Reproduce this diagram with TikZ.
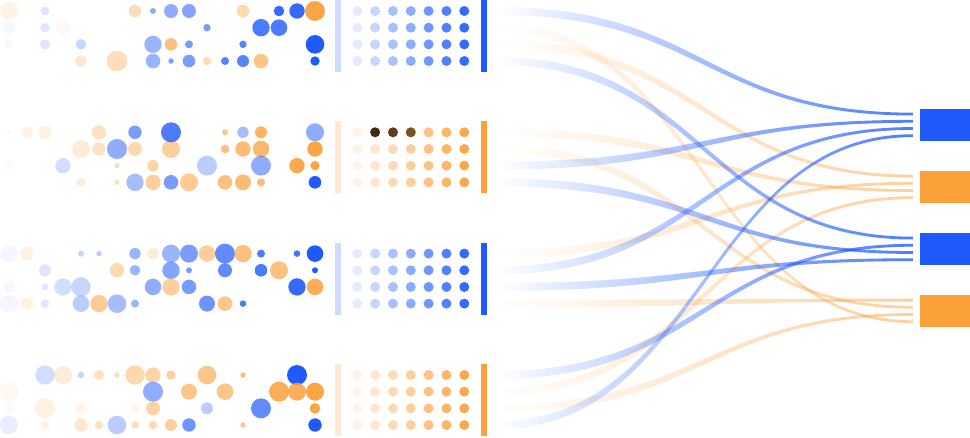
\documentclass[tikz,border=0pt]{standalone}
\usetikzlibrary{positioning, calc, fadings}

\definecolor{cb}{HTML}{1F5AFF}
\definecolor{co}{HTML}{FCA03A}
\definecolor{brownA}{HTML}{3E2A13}
\definecolor{brownB}{HTML}{5E3D1B}
\definecolor{brownC}{HTML}{7D521F}

\tikzfading[name=flowfade, left color=transparent!100, middle color=transparent!30, right color=transparent!0]

% tapered ribbon between two named coordinates
\newcommand{\drawflow}[3]{%
  \fill[#1] ($(#2)+(0,-4)$) .. controls ($(#2)+(206,-4)$) and ($(#3)+(-206,-1.4)$) .. ($(#3)+(0,-1.4)$)
    -- ($(#3)+(0,1.4)$) .. controls ($(#3)+(-206,1.4)$) and ($(#2)+(206,4)$) .. ($(#2)+(0,4)$) -- cycle;}

\begin{document}
\begin{tikzpicture}[
    x=1pt, y=-1pt,
    outbox/.style={rectangle, minimum width=50pt, minimum height=31.5pt, inner sep=0pt, draw=none},
    flow/.style={path fading=flowfade},
    blueflow/.style={flow, fill=cb, fill opacity=0.8},
    orangeflow/.style={flow, fill=co, fill opacity=0.5},
]
\useasboundingbox (0,0) rectangle (970,437);

% Bubble rows, group 1
\foreach \k/\r/\s/\col/\op in {0/0/9/co/0.12, 2/0/4.3/cb/0.15, 7/0/6.3/co/0.35, 8/0/3/cb/0.5, 9/0/7/cb/0.5,
    10/0/7/cb/0.55, 13/0/6.3/co/0.4, 15/0/5.3/cb/0.9, 16/0/7.7/cb/0.9, 17/0/10/co/0.95,
    0/1/6/cb/0.05, 2/1/4.7/cb/0.15, 3/1/6.7/co/0.08, 11/1/3.7/cb/0.6, 14/1/8.7/cb/0.8, 15/1/8.3/cb/0.8,
    0/2/4/cb/0.05, 2/2/5/cb/0.15, 4/2/5.3/cb/0.25, 8/2/8.7/cb/0.45, 9/2/6.3/co/0.65, 10/2/4/cb/0.6,
    13/2/3.7/cb/0.75, 17/2/9.3/cb/1,
    4/3/5.7/co/0.25, 6/3/10.3/co/0.35, 8/3/7.3/cb/0.45, 9/3/2.7/cb/0.6, 10/3/6.3/cb/0.6, 11/3/4.3/co/0.35,
    12/3/4/cb/0.75, 13/3/6/cb/0.75, 14/3/7.3/co/0.6, 17/3/4.7/cb/1}{
    \fill[\col, fill opacity=\op] (9+18*\k, 11+16.67*\r) circle[radius=\s pt];
}

% Bubble rows, group 2
\foreach \k/\r/\s/\col/\op in {0/0/3/co/0.05, 1/0/6/co/0.12, 2/0/6.7/co/0.15, 5/0/7.3/co/0.3, 7/0/6.7/cb/0.6,
    12/0/3/co/0.6, 13/0/5.7/cb/0.4, 14/0/6/co/0.8, 17/0/9/cb/0.5,
    4/1/9/co/0.2, 5/1/6.7/co/0.3, 6/1/10/cb/0.5, 7/1/7/co/0.4, 9/1/9/co/0.5, 12/1/4.3/co/0.65,
    13/1/7.7/co/0.7, 14/1/8.3/co/0.75, 17/1/7.7/co/0.95, 9/0/10/cb/0.8,
    0/2/4.7/co/0.05, 3/2/7.7/cb/0.2, 6/2/2.7/co/0.35, 8/2/5.7/co/0.45, 11/2/10/cb/0.3, 14/2/10/cb/0.5,
    16/2/7.7/co/0.9, 17/2/4.7/co/0.95,
    4/3/4.3/co/0.2, 6/3/2.7/co/0.3, 7/3/8.7/cb/0.4, 8/3/7.7/co/0.5, 9/3/7.3/cb/0.6, 10/3/9/co/0.55,
    12/3/7.3/co/0.65, 13/3/8/co/0.7, 14/3/4/co/0.7, 17/3/6.3/cb/1}{
    \fill[\col, fill opacity=\op] (9+18*\k, 132.3+16.67*\r) circle[radius=\s pt];
}

% Bubble rows, group 3
\foreach \k/\r/\s/\col/\op in {0/0/8.7/cb/0.05, 1/0/6.7/co/0.15, 4/0/3/cb/0.25, 5/0/2.7/cb/0.3, 7/0/5.7/cb/0.45,
    8/0/5.7/co/0.2, 9/0/9/cb/0.45, 10/0/9/cb/0.6, 11/0/8.3/co/0.5, 12/0/10/cb/0.7, 13/0/8.7/co/0.65,
    14/0/4/cb/0.8, 16/0/3.3/cb/0.85, 17/0/8.3/cb/1,
    2/1/6/cb/0.15, 6/1/7.3/co/0.4, 7/1/5.3/cb/0.45, 9/1/8.7/cb/0.55, 10/1/3/cb/0.6, 12/1/7/cb/0.7,
    14/1/6.3/cb/0.8, 15/1/9/co/0.65, 17/1/3/cb/1,
    0/2/5.7/cb/0.05, 2/2/3.3/cb/0.15, 3/2/8.7/cb/0.2, 4/2/9.7/cb/0.25, 8/2/8.3/cb/0.5, 9/2/8.7/co/0.5,
    10/2/7.3/cb/0.6, 16/2/8.7/cb/0.9, 17/2/8.3/co/0.85,
    0/3/9/cb/0.05, 1/3/6/co/0.15, 2/3/4.3/cb/0.15, 4/3/8.3/cb/0.3, 5/3/8.7/co/0.55, 6/3/9.3/cb/0.4,
    7/3/4/cb/0.45, 11/3/8/cb/0.65, 12/3/7.3/co/0.6, 13/3/3.3/cb/0.8}{
    \fill[\col, fill opacity=\op] (9+18*\k, 253.6+16.67*\r) circle[radius=\s pt];
}

% Bubble rows, group 4
\foreach \k/\r/\s/\col/\op in {2/0/9.7/cb/0.2, 3/0/9/co/0.2, 4/0/3.3/cb/0.25, 5/0/5.3/co/0.3, 6/0/2.7/co/0.35,
    7/0/9.7/co/0.4, 8/0/7.7/co/0.45, 9/0/4.7/co/0.5, 11/0/9.3/co/0.6, 13/0/2.7/co/0.7, 16/0/10/cb/1,
    0/1/9.3/co/0.08, 8/1/10/cb/0.5, 10/1/8/co/0.6, 12/1/8.3/co/0.6, 15/1/10/co/0.85, 16/1/9/co/0.85,
    17/1/9/co/0.95,
    0/2/5/co/0.05, 2/2/10/co/0.15, 4/2/6/co/0.1, 7/2/4.7/co/0.1, 8/2/7/co/0.45, 11/2/6/cb/0.3,
    14/2/10/cb/0.7, 17/2/5.3/co/0.95,
    0/3/9/cb/0.1, 2/3/4/co/0.15, 4/3/6.7/co/0.25, 5/3/4.3/co/0.3, 6/3/9.3/cb/0.3, 7/3/3.7/co/0.35,
    8/3/4.3/co/0.4, 9/3/6/co/0.5, 10/3/6.7/cb/0.65, 13/3/2.7/co/0.6, 17/3/6.7/cb/1}{
    \fill[\col, fill opacity=\op] (9+18*\k, 375+16.67*\r) circle[radius=\s pt];
}

% Bars and dot grids
\foreach \g/\T/\col in {1/0/cb, 2/121.3/co, 3/242.6/cb, 4/364/co}{
    \fill[\col, fill opacity=0.22] (335.2, \T) rectangle (340.7, \T+72);
    \fill[\col] (481, \T) rectangle (487, \T+72);
    \foreach \j [evaluate=\j as \op using 0.12+0.13*\j] in {0,...,6}
        \foreach \r in {0,...,3}
            \fill[\col, fill opacity=\op] (357.3+17.83*\j, \T+11+16.67*\r) circle[radius=5pt];
    \foreach \r in {0,...,3}
        \coordinate (s\g\r) at (497, \T+11+16.67*\r);
}
\foreach \j/\col in {1/brownA, 2/brownB, 3/brownC}
    \fill[\col] (357.3+17.83*\j, 132.3) circle[radius=5pt];

% Output boxes
\node[outbox, fill=cb] (out1) at (945, 124.9) {};
\node[outbox, fill=co] (out2) at (945, 186.9) {};
\node[outbox, fill=cb] (out3) at (945, 248.9) {};
\node[outbox, fill=co] (out4) at (945, 310.9) {};
\foreach \b in {1,...,4}
    \foreach \i in {0,...,3}
        \coordinate (e\b\i) at ($(out\b.west)+(-7, -10.8+7.2*\i)$);

% Flows
\foreach \g/\r/\b/\i in {1/2/2/0, 3/0/2/1, 2/0/2/2, 4/1/2/3, 3/3/4/0, 2/1/4/1, 4/2/4/2, 1/1/4/3}{
    \drawflow{orangeflow}{s\g\r}{e\b\i}
}
\foreach \g/\r/\b/\i in {1/0/1/0, 2/2/1/1, 3/1/1/2, 4/3/1/3, 1/3/3/0, 4/0/3/1, 2/3/3/2, 3/2/3/3}{
    \drawflow{blueflow}{s\g\r}{e\b\i}
}

\end{tikzpicture}
\end{document}
